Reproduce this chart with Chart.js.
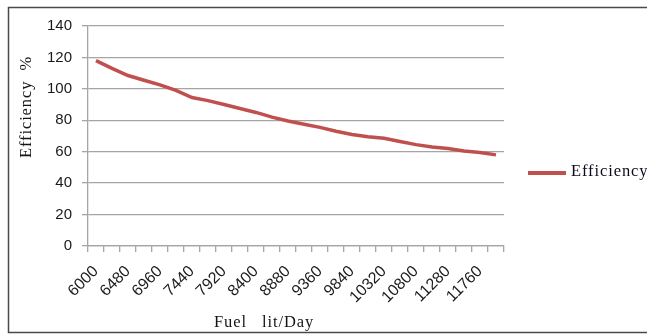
<!DOCTYPE html>
<html>
<head>
<meta charset="utf-8">
<script src="https://cdn.jsdelivr.net/npm/chart.js@4/dist/chart.umd.min.js"></script>
<style>
  html, body { margin: 0; padding: 0; background: #ffffff; }
  #wrap { width: 647px; height: 336px; position: relative; }
</style>
</head>
<body>
<div id="wrap"><canvas id="c"></canvas></div>
<script>
// Fuel consumption (lit/Day) categories
const fuel = [6000, 6240, 6480, 6720, 6960, 7200, 7440, 7680, 7920, 8160, 8400, 8640, 8880,
              9120, 9360, 9600, 9840, 10080, 10320, 10560, 10800, 11040, 11280, 11520, 11760, 12000];
// Efficiency (%) at each fuel rate
const efficiency = [118, 113, 108.5, 105.5, 102.5, 99, 94.5, 92.5, 90, 87.5, 85, 82, 79.5,
                    77.5, 75.5, 73, 71, 69.5, 68.5, 66.5, 64.5, 63, 62, 60.5, 59.5, 58];
// Category labels printed under the axis
const fuelLabels = ['6000', '6480', '6960', '7440', '7920', '8400', '8880',
                    '9360', '9840', '10320', '10800', '11280', '11760'];
// Value axis ticks
const yTicks = [0, 20, 40, 60, 80, 100, 120, 140];

const seriesName = 'Efficiency';
const xTitle = 'Fuel   lit/Day';
const yTitle = 'Efficiency  %';

const lineColor = '#c0504d';
const gridColor = '#a5a5a5';
const serif = '"Liberation Serif", "DejaVu Serif", serif';

// Frame, axis titles and the legend entry
const decorations = {
  id: 'decorations',
  beforeDraw(chart) {
    const ctx = chart.ctx;
    ctx.save();
    ctx.fillStyle = '#ffffff';
    ctx.fillRect(0, 0, chart.width, chart.height);
    ctx.strokeStyle = '#4a4a4a';
    ctx.lineWidth = 1.5;
    ctx.strokeRect(8.5, 7.5, chart.width + 10, 325);
    ctx.restore();
  },
  afterDraw(chart) {
    const ctx = chart.ctx;
    ctx.save();
    ctx.fillStyle = '#141414';
    ctx.font = '16.5px ' + serif;
    ctx.letterSpacing = '0.9px';
    ctx.textAlign = 'center';
    ctx.textBaseline = 'middle';
    // x title
    ctx.fillText(xTitle, 264, 323);
    // y title
    ctx.save();
    ctx.translate(27, 107);
    ctx.rotate(-Math.PI / 2);
    ctx.fillText(yTitle, 0, 0);
    ctx.restore();
    // legend
    ctx.strokeStyle = lineColor;
    ctx.lineWidth = 4;
    ctx.beginPath();
    ctx.moveTo(528, 173);
    ctx.lineTo(566, 173);
    ctx.stroke();
    ctx.fillStyle = '#0b0b1e';
    ctx.textAlign = 'left';
    ctx.fillText(chart.data.datasets[0].label, 571, 172);
    ctx.restore();
  }
};

new Chart(document.getElementById('c'), {
  type: 'line',
  data: {
    labels: fuel.map(String),
    datasets: [{
      label: seriesName,
      data: efficiency,
      borderColor: lineColor,
      borderWidth: 3.5,
      pointRadius: 0,
      tension: 0,
      fill: false
    }]
  },
  options: {
    responsive: true,
    maintainAspectRatio: false,
    animation: false,
    devicePixelRatio: 1,
    layout: { padding: { left: 0, top: 26, right: 143, bottom: 0 } },
    plugins: { legend: { display: false }, tooltip: { enabled: false } },
    scales: {
      x: {
        type: 'category',
        offset: true,
        grid: {
          offset: true,
          drawOnChartArea: false,
          drawTicks: true,
          tickLength: 6,
          color: gridColor,
          lineWidth: 1.3
        },
        border: { display: true, color: gridColor, width: 1.3 },
        ticks: {
          autoSkip: false,
          minRotation: 45,
          maxRotation: 45,
          padding: 10,
          color: '#1a1a1a',
          font: { family: '"Liberation Sans", Arial, sans-serif', size: 16 },
          callback(value, index) {
            const lab = this.getLabelForValue(value);
            return fuelLabels.includes(lab) ? lab : '';
          }
        },
        afterFit(scale) { scale.height = 90; }
      },
      y: {
        min: 0,
        max: 140,
        afterBuildTicks(scale) { scale.ticks = yTicks.map(v => ({ value: v })); },
        grid: {
          color: gridColor,
          lineWidth: 1.3,
          drawTicks: true,
          tickLength: 6
        },
        border: { display: true, color: gridColor, width: 1.3 },
        ticks: {
          padding: 10,
          color: '#1a1a1a',
          font: { family: '"Liberation Sans", Arial, sans-serif', size: 15 }
        },
        afterFit(scale) { scale.width = 88; }
      }
    }
  },
  plugins: [decorations]
});
</script>
</body>
</html>
